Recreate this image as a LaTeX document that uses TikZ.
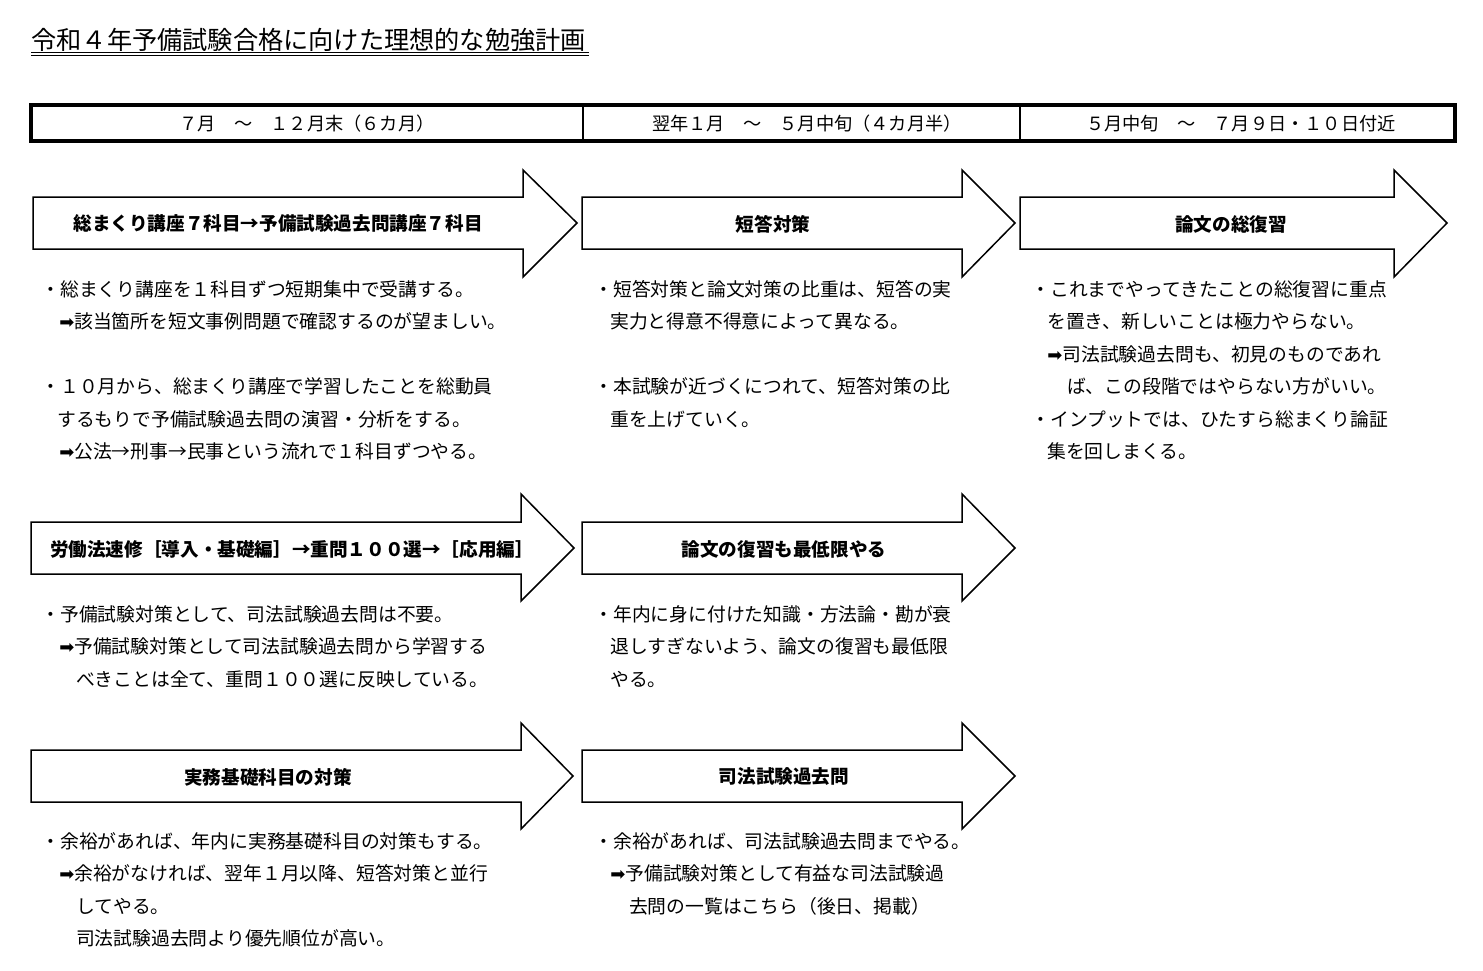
\documentclass[tikz,border=0pt]{standalone}
\usepackage{fontspec}
\setmainfont{Noto Sans CJK JP}
\newfontfamily\symfont{DejaVu Sans}
\newcommand{\hvarr}{{\symfont\fontsize{9}{9}\selectfont ➡}}
\usetikzlibrary{positioning}

\begin{document}
\begin{tikzpicture}[x=0.5pt, y=-0.5pt,
  barrow/.style={line width=0.75pt, line join=miter},
  hdtext/.style={inner sep=0pt, font=\fontsize{9.1}{11}\selectfont},
  lbl/.style={inner sep=0pt, font=\bfseries\fontsize{9.3}{11}\selectfont},
  body/.style={inner sep=0pt, anchor=north west, align=left, font=\fontsize{9.4}{16.25}\selectfont}]
\useasboundingbox (0,0) rectangle (1483,970);

% Title
\node[inner sep=0pt, anchor=base west, font=\fontsize{12.6}{14}\selectfont] (title) at (31,49) {令和４年予備試験合格に向けた理想的な勉強計画};
\draw[line width=0.5pt] (31,52) -- (589,52);
\draw[line width=0.5pt] (31,55) -- (589,55);

% Period bar
\draw[line width=2pt] (31,105) rectangle (1455,141);
\draw[line width=1pt] (583,105) -- (583,141);
\draw[line width=1pt] (1020,105) -- (1020,141);
\node[hdtext] (hd1) at (307,124) {７月　～　１２月末（６カ月）};
\node[hdtext] (hd2) at (807,124) {翌年１月　～　５月中旬（４カ月半）};
\node[hdtext] (hd3) at (1241,124) {５月中旬　～　７月９日・１０日付近};

% Row 1 arrows
\draw[barrow] (33,197) -- (523,197) -- (523,170) -- (577,223) -- (523,277) -- (523,249) -- (33,249) -- cycle;
\node[lbl] (a1) at (278,224) {総まくり講座７科目→予備試験過去問講座７科目};
\draw[barrow] (582,197) -- (962,197) -- (962,170) -- (1015,223) -- (962,277) -- (962,249) -- (582,249) -- cycle;
\node[lbl] (a2) at (773,224) {短答対策};
\draw[barrow] (1020,197) -- (1394,197) -- (1394,170) -- (1447,223) -- (1394,277) -- (1394,249) -- (1020,249) -- cycle;
\node[lbl] (a3) at (1231,224) {論文の総復習};

% Row 1 notes
\node[body] (t1) at (41,280) {・総まくり講座を１科目ずつ短期集中で受講する。\\
\hspace*{0.95em}\hvarr 該当箇所を短文事例問題で確認するのが望ましい。\\[16.25pt]
・１０月から、総まくり講座で学習したことを総動員\\
\hspace*{0.85em}するもりで予備試験過去問の演習・分析をする。\\
\hspace*{0.95em}\hvarr 公法→刑事→民事という流れで１科目ずつやる。};
\node[body] (t2) at (594,280) {・短答対策と論文対策の比重は、短答の実\\
\hspace*{0.85em}実力と得意不得意によって異なる。\\[16.25pt]
・本試験が近づくにつれて、短答対策の比\\
\hspace*{0.85em}重を上げていく。};
\node[body] (t3) at (1031,280) {・これまでやってきたことの総復習に重点\\
\hspace*{0.85em}を置き、新しいことは極力やらない。\\
\hspace*{0.85em}\hvarr 司法試験過去問も、初見のものであれ\\
\hspace*{1.9em}ば、この段階ではやらない方がいい。\\
・インプットでは、ひたすら総まくり論証\\
\hspace*{0.85em}集を回しまくる。};

% Row 2 arrows
\draw[barrow] (31,522) -- (521,522) -- (521,494) -- (574,548) -- (521,601) -- (521,574) -- (31,574) -- cycle;
\node[lbl] (a4) at (292,549) {労働法速修［導入・基礎編］→重問１００選→［応用編］};
\draw[barrow] (582,522) -- (962,522) -- (962,494) -- (1015,548) -- (962,601) -- (962,574) -- (582,574) -- cycle;
\node[lbl] (a5) at (784,549) {論文の復習も最低限やる};

% Row 2 notes
\node[body] (t4) at (41,605) {・予備試験対策として、司法試験過去問は不要。\\
\hspace*{0.95em}\hvarr 予備試験対策として司法試験過去問から学習する\\
\hspace*{1.85em}べきことは全て、重問１００選に反映している。};
\node[body] (t5) at (594,605) {・年内に身に付けた知識・方法論・勘が衰\\
\hspace*{0.85em}退しすぎないよう、論文の復習も最低限\\
\hspace*{0.85em}やる。};

% Row 3 arrows
\draw[barrow] (31,750) -- (521,750) -- (521,723) -- (573,776) -- (521,829) -- (521,802) -- (31,802) -- cycle;
\node[lbl] (a6) at (268,777) {実務基礎科目の対策};
\draw[barrow] (582,750) -- (962,750) -- (962,723) -- (1015,776) -- (962,829) -- (962,802) -- (582,802) -- cycle;
\node[lbl] (a7) at (784,777) {司法試験過去問};

% Row 3 notes
\node[body] (t6) at (41,832) {・余裕があれば、年内に実務基礎科目の対策もする。\\
\hspace*{0.95em}\hvarr 余裕がなければ、翌年１月以降、短答対策と並行\\
\hspace*{1.85em}してやる。\\
\hspace*{1.85em}司法試験過去問より優先順位が高い。};
\node[body] (t7) at (594,832) {・余裕があれば、司法試験過去問までやる。\\
\hspace*{0.85em}\hvarr 予備試験対策として有益な司法試験過\\
\hspace*{1.85em}去問の一覧はこちら（後日、掲載）};
\end{tikzpicture}
\end{document}
